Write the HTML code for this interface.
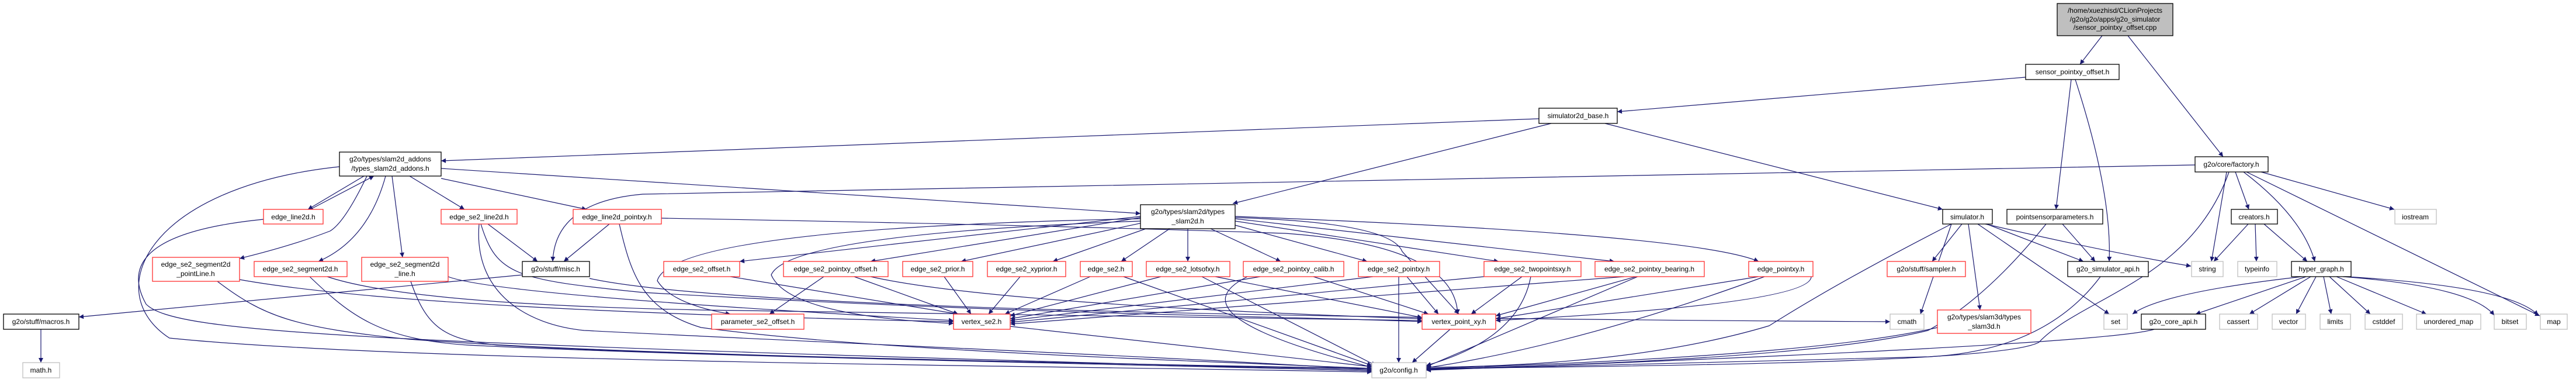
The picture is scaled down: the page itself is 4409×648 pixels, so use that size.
<!DOCTYPE html>
<html><head><meta charset="utf-8"><style>
html,body{margin:0;padding:0;background:#fff;width:4409px;height:648px;overflow:hidden}
svg{display:block}
text{font-family:"Liberation Sans",sans-serif;font-size:12px;fill:#000}
.e{fill:none;stroke:#191970;stroke-width:1.2}
.b{fill:#fff;stroke:#000;stroke-width:1.3}
.r{fill:#fff;stroke:#ff3030;stroke-width:1.3}
.g{fill:#fff;stroke:#bfbfbf;stroke-width:1.3}
</style></head><body>
<svg width="4409" height="648" viewBox="0 0 4409 648" xmlns="http://www.w3.org/2000/svg">
<defs><marker id="a" markerUnits="userSpaceOnUse" viewBox="0 0 10 10" refX="10" refY="5" markerWidth="11" markerHeight="8" orient="auto"><path d="M0,0 L10,5 L0,10 z" fill="#191970"/></marker></defs>
<g marker-end="url(#a)">
<path class="e" d="M3598,61 L3560,110"/>
<path class="e" d="M3642,61 L3805,268"/>
<path class="e" d="M3467,132 L2768,191"/>
<path class="e" d="M3545,136 L3519,358"/>
<path class="e" d="M3552,136 Q3615,330 3610,447"/>
<path class="e" d="M2634,203 L755,275"/>
<path class="e" d="M2655,211 L2110,348"/>
<path class="e" d="M2747,211 L3325,358"/>
<path class="e" d="M3757,282 L1100,332 Q950,345 946,447"/>
<path class="e" d="M3811,294 L3785,447"/>
<path class="e" d="M3815,294 C3750,480 3560,510 3490,585 C3440,615 3000,625 2441,630"/>
<path class="e" d="M3826,294 L3849,358"/>
<path class="e" d="M3840,294 Q3940,370 3962,447"/>
<path class="e" d="M3845,294 L4347,540"/>
<path class="e" d="M3870,294 L4098,358"/>
<path class="e" d="M3848,383 L3789,447"/>
<path class="e" d="M3860,383 L3862,447"/>
<path class="e" d="M3875,383 L3949,447"/>
<path class="e" d="M3940,473 Q3700,500 3650,537"/>
<path class="e" d="M3947,473 L3758,537"/>
<path class="e" d="M3955,473 L3850,537"/>
<path class="e" d="M3964,473 L3930,537"/>
<path class="e" d="M3977,473 L3990,537"/>
<path class="e" d="M3987,473 L4057,537"/>
<path class="e" d="M3999,473 L4153,537"/>
<path class="e" d="M4010,473 Q4230,490 4269,539"/>
<path class="e" d="M4015,473 Q4300,490 4344,539"/>
<path class="e" d="M3687,563 Q3600,590 2441,633"/>
<path class="e" d="M3358,383 L3307,447"/>
<path class="e" d="M3369,383 L3389,530"/>
<path class="e" d="M3385,383 L3610,537"/>
<path class="e" d="M3400,383 L3566,447"/>
<path class="e" d="M3398,383 Q3600,430 3750,455"/>
<path class="e" d="M3340,383 Q3150,480 3028,557 Q2800,625 2441,628"/>
<path class="e" d="M3340,383 L3287,537"/>
<path class="e" d="M3530,383 L3586,447"/>
<path class="e" d="M3502,383 Q3400,510 3300,565 Q3100,615 2441,631"/>
<path class="e" d="M3595,473 Q3500,600 3300,610 L2441,632"/>
<path class="e" d="M3316,560 Q3100,610 2441,630"/>
<path class="e" d="M70,563 L70,620"/>
<path class="e" d="M894,470 L135,542"/>
<path class="e" d="M1009,476 Q1300,540 3235,550"/>
<path class="e" d="M623,301 L527,358"/>
<path class="e" d="M531,358 L640,301"/>
<path class="e" d="M628,301 Q590,380 565,395 Q500,420 410,442"/>
<path class="e" d="M660,301 Q630,410 545,447"/>
<path class="e" d="M671,301 L689,440"/>
<path class="e" d="M701,301 L795,358"/>
<path class="e" d="M755,305 L1004,358"/>
<path class="e" d="M755,288 L1952,365"/>
<path class="e" d="M581,285 C250,320 170,500 290,578 C700,620 1800,625 2348,636"/>
<path class="e" d="M451,375 C300,390 200,430 250,520 C300,570 600,585 2348,634"/>
<path class="e" d="M835,383 L920,447"/>
<path class="e" d="M820,383 C810,500 900,555 1000,565 C1500,590 2000,610 2348,632"/>
<path class="e" d="M823,383 C850,470 880,478 1100,500 C1800,540 2200,540 2434,550"/>
<path class="e" d="M1043,383 L965,447"/>
<path class="e" d="M1060,383 C1080,470 1100,530 1200,560 C1500,600 2000,615 2348,630"/>
<path class="e" d="M1132,373 Q1800,385 2200,399 Q2490,420 2495,537"/>
<path class="e" d="M410,478 Q700,530 1632,550"/>
<path class="e" d="M372,481 C450,540 500,560 700,580 C1100,610 1900,620 2348,632"/>
<path class="e" d="M560,473 Q700,520 1200,530 L2434,548"/>
<path class="e" d="M530,473 C600,540 650,580 800,590 C1200,610 1900,622 2348,634"/>
<path class="e" d="M767,473 Q850,505 1632,548"/>
<path class="e" d="M703,481 C730,560 760,580 850,590 C1200,610 1900,622 2348,630"/>
<path class="e" d="M1952,370 L1266,447"/>
<path class="e" d="M1952,372 L1490,447"/>
<path class="e" d="M1960,380 L1645,447"/>
<path class="e" d="M1970,388 L1802,447"/>
<path class="e" d="M2002,391 L1919,447"/>
<path class="e" d="M2033,391 L2033,447"/>
<path class="e" d="M2072,391 L2192,447"/>
<path class="e" d="M2114,385 L2340,447"/>
<path class="e" d="M2114,378 L2565,447"/>
<path class="e" d="M2114,374 L2763,447"/>
<path class="e" d="M2114,370 Q2900,400 3010,447"/>
<path class="e" d="M1952,374 Q1150,390 1125,480 Q1150,520 1250,537"/>
<path class="e" d="M1952,378 Q1350,400 1320,470 Q1350,540 1632,553"/>
<path class="e" d="M2114,372 Q2380,380 2400,430 L2497,537"/>
<path class="e" d="M1250,473 L1640,537"/>
<path class="e" d="M1410,473 L1317,537"/>
<path class="e" d="M1462,473 L1640,537"/>
<path class="e" d="M1490,473 Q1700,520 2434,545"/>
<path class="e" d="M1616,473 L1662,537"/>
<path class="e" d="M1746,473 L1692,537"/>
<path class="e" d="M1866,473 L1720,537"/>
<path class="e" d="M1923,473 L2348,625"/>
<path class="e" d="M1987,473 L1729,540"/>
<path class="e" d="M2057,473 L2355,625"/>
<path class="e" d="M2080,473 L2434,543"/>
<path class="e" d="M2157,473 L1729,545"/>
<path class="e" d="M2248,473 L2445,537"/>
<path class="e" d="M2135,473 Q2000,540 2348,628"/>
<path class="e" d="M2350,473 L1729,548"/>
<path class="e" d="M2394,473 L2394,620"/>
<path class="e" d="M2408,473 L2462,537"/>
<path class="e" d="M2540,473 L1729,551"/>
<path class="e" d="M2605,473 L2518,537"/>
<path class="e" d="M2620,473 Q2600,580 2441,625"/>
<path class="e" d="M2780,473 L1729,554"/>
<path class="e" d="M2800,473 L2560,540"/>
<path class="e" d="M2803,473 Q2600,560 2441,627"/>
<path class="e" d="M3010,473 L2560,545"/>
<path class="e" d="M3020,473 Q2700,590 2441,629"/>
<path class="e" d="M3100,473 Q3100,520 2560,548"/>
<path class="e" d="M1729,558 L2348,627"/>
<path class="e" d="M2482,563 L2417,620"/>
</g>
<g>
<rect x="3521" y="6" width="198" height="55" fill="#bfbfbf" stroke="#000" stroke-width="1.3"/>
<text x="3620" y="22" text-anchor="middle">/home/xuezhisd/CLionProjects</text>
<text x="3620" y="37" text-anchor="middle">/g2o/g2o/apps/g2o_simulator</text>
<text x="3620" y="51" text-anchor="middle">/sensor_pointxy_offset.cpp</text>
<rect class="b" x="3467" y="110" width="160" height="26"/><text x="3547" y="127" text-anchor="middle">sensor_pointxy_offset.h</text>
<rect class="b" x="2634" y="185" width="134" height="26"/><text x="2701" y="202" text-anchor="middle">simulator2d_base.h</text>
<rect class="b" x="3757" y="268" width="125" height="26"/><text x="3819" y="285" text-anchor="middle">g2o/core/factory.h</text>
<rect class="b" x="581" y="260" width="174" height="41"/><text x="668" y="276" text-anchor="middle">g2o/types/slam2d_addons</text><text x="668" y="292" text-anchor="middle">/types_slam2d_addons.h</text>
<rect class="b" x="1952" y="350" width="162" height="41"/><text x="2033" y="366" text-anchor="middle">g2o/types/slam2d/types</text><text x="2033" y="382" text-anchor="middle">_slam2d.h</text>
<rect class="r" x="451" y="358" width="102" height="25"/><text x="502" y="375" text-anchor="middle">edge_line2d.h</text>
<rect class="r" x="755" y="358" width="130" height="25"/><text x="820" y="375" text-anchor="middle">edge_se2_line2d.h</text>
<rect class="r" x="981" y="358" width="151" height="25"/><text x="1056" y="375" text-anchor="middle">edge_line2d_pointxy.h</text>
<rect class="b" x="3325" y="358" width="85" height="25"/><text x="3367" y="375" text-anchor="middle">simulator.h</text>
<rect class="b" x="3435" y="358" width="164" height="25"/><text x="3517" y="375" text-anchor="middle">pointsensorparameters.h</text>
<rect class="b" x="3819" y="358" width="79" height="25"/><text x="3858" y="375" text-anchor="middle">creators.h</text>
<rect class="g" x="4099" y="358" width="71" height="25"/><text x="4134" y="375" text-anchor="middle">iostream</text>
<rect class="r" x="261" y="440" width="149" height="41"/><text x="335" y="456" text-anchor="middle">edge_se2_segment2d</text><text x="335" y="472" text-anchor="middle">_pointLine.h</text>
<rect class="r" x="435" y="447" width="159" height="26"/><text x="514" y="464" text-anchor="middle">edge_se2_segment2d.h</text>
<rect class="r" x="619" y="440" width="148" height="41"/><text x="693" y="456" text-anchor="middle">edge_se2_segment2d</text><text x="693" y="472" text-anchor="middle">_line.h</text>
<rect class="b" x="894" y="447" width="115" height="26"/><text x="951" y="464" text-anchor="middle">g2o/stuff/misc.h</text>
<rect class="r" x="1136" y="447" width="130" height="26"/><text x="1201" y="464" text-anchor="middle">edge_se2_offset.h</text>
<rect class="r" x="1341" y="447" width="179" height="26"/><text x="1430" y="464" text-anchor="middle">edge_se2_pointxy_offset.h</text>
<rect class="r" x="1545" y="447" width="120" height="26"/><text x="1605" y="464" text-anchor="middle">edge_se2_prior.h</text>
<rect class="r" x="1690" y="447" width="134" height="26"/><text x="1757" y="464" text-anchor="middle">edge_se2_xyprior.h</text>
<rect class="r" x="1849" y="447" width="89" height="26"/><text x="1893" y="464" text-anchor="middle">edge_se2.h</text>
<rect class="r" x="1962" y="447" width="143" height="26"/><text x="2033" y="464" text-anchor="middle">edge_se2_lotsofxy.h</text>
<rect class="r" x="2128" y="447" width="172" height="26"/><text x="2214" y="464" text-anchor="middle">edge_se2_pointxy_calib.h</text>
<rect class="r" x="2325" y="447" width="139" height="26"/><text x="2394" y="464" text-anchor="middle">edge_se2_pointxy.h</text>
<rect class="r" x="2540" y="447" width="166" height="26"/><text x="2623" y="464" text-anchor="middle">edge_se2_twopointsxy.h</text>
<rect class="r" x="2730" y="447" width="187" height="26"/><text x="2823" y="464" text-anchor="middle">edge_se2_pointxy_bearing.h</text>
<rect class="r" x="2993" y="447" width="110" height="26"/><text x="3048" y="464" text-anchor="middle">edge_pointxy.h</text>
<rect class="r" x="3230" y="447" width="134" height="26"/><text x="3297" y="464" text-anchor="middle">g2o/stuff/sampler.h</text>
<rect class="b" x="3539" y="447" width="138" height="26"/><text x="3608" y="464" text-anchor="middle">g2o_simulator_api.h</text>
<rect class="g" x="3751" y="447" width="54" height="26"/><text x="3778" y="464" text-anchor="middle">string</text>
<rect class="g" x="3830" y="447" width="67" height="26"/><text x="3863" y="464" text-anchor="middle">typeinfo</text>
<rect class="b" x="3922" y="447" width="102" height="26"/><text x="3973" y="464" text-anchor="middle">hyper_graph.h</text>
<rect class="b" x="6" y="537" width="129" height="26"/><text x="70" y="554" text-anchor="middle">g2o/stuff/macros.h</text>
<rect class="r" x="1218" y="537" width="158" height="26"/><text x="1297" y="554" text-anchor="middle">parameter_se2_offset.h</text>
<rect class="r" x="1632" y="537" width="97" height="26"/><text x="1680" y="554" text-anchor="middle">vertex_se2.h</text>
<rect class="r" x="2434" y="537" width="126" height="26"/><text x="2497" y="554" text-anchor="middle">vertex_point_xy.h</text>
<rect class="g" x="3235" y="537" width="58" height="26"/><text x="3264" y="554" text-anchor="middle">cmath</text>
<rect class="r" x="3316" y="530" width="160" height="40"/><text x="3396" y="546" text-anchor="middle">g2o/types/slam3d/types</text><text x="3396" y="562" text-anchor="middle">_slam3d.h</text>
<rect class="g" x="3601" y="537" width="40" height="26"/><text x="3621" y="554" text-anchor="middle">set</text>
<rect class="b" x="3665" y="537" width="110" height="26"/><text x="3720" y="554" text-anchor="middle">g2o_core_api.h</text>
<rect class="g" x="3799" y="537" width="65" height="26"/><text x="3831" y="554" text-anchor="middle">cassert</text>
<rect class="g" x="3889" y="537" width="57" height="26"/><text x="3917" y="554" text-anchor="middle">vector</text>
<rect class="g" x="3971" y="537" width="52" height="26"/><text x="3997" y="554" text-anchor="middle">limits</text>
<rect class="g" x="4048" y="537" width="64" height="26"/><text x="4080" y="554" text-anchor="middle">cstddef</text>
<rect class="g" x="4136" y="537" width="110" height="26"/><text x="4191" y="554" text-anchor="middle">unordered_map</text>
<rect class="g" x="4269" y="537" width="55" height="26"/><text x="4296" y="554" text-anchor="middle">bitset</text>
<rect class="g" x="4348" y="537" width="46" height="26"/><text x="4371" y="554" text-anchor="middle">map</text>
<rect class="g" x="39" y="620" width="63" height="26"/><text x="70" y="637" text-anchor="middle">math.h</text>
<rect class="g" x="2348" y="620" width="93" height="26"/><text x="2394" y="637" text-anchor="middle">g2o/config.h</text>
</g>
</svg>
</body></html>
